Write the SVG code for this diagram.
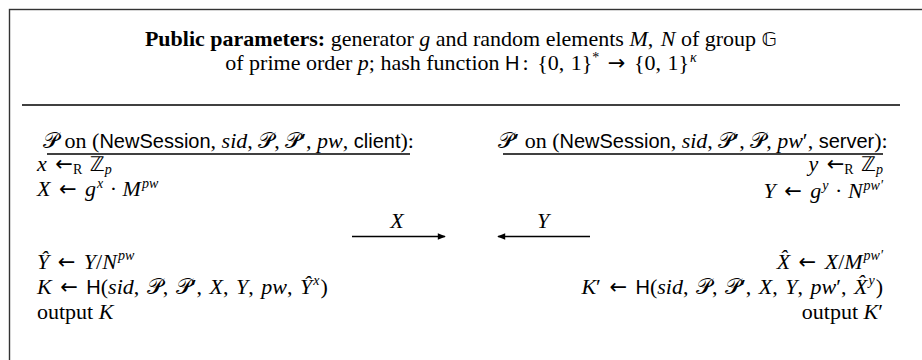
<svg xmlns="http://www.w3.org/2000/svg" width="922" height="360" viewBox="0 0 922 360">
<defs>
<style>
.t{font-family:"Liberation Serif","DejaVu Serif",serif;font-size:22px;fill:#000}
.i{font-style:italic}
.sf{font-family:"Liberation Sans","DejaVu Sans",sans-serif;font-size:20px;font-style:normal}
.s{font-size:14px}
.ar{font-family:"DejaVu Sans",sans-serif;font-size:21px;font-style:normal}
.cal{font-family:"DejaVu Sans","Noto Sans",sans-serif;font-style:normal}
.bb{font-family:"DejaVu Sans","Noto Sans",sans-serif;font-style:normal;font-size:20px}
.rule{stroke:#000;stroke-width:1.3}
.msg{stroke:#000;stroke-width:1.3;fill:none}
</style>
<marker id="ah" viewBox="0 0 10 10" refX="9" refY="5" markerWidth="10" markerHeight="8" markerUnits="userSpaceOnUse" orient="auto">
<path d="M0,1 L10,5 L0,9 z" fill="#000"/>
</marker>
</defs>
<rect x="9.5" y="9.5" width="930" height="370" fill="#fff" stroke="#333" stroke-width="1.4"/>
<g id="params">
<text class="t" x="461" y="46" text-anchor="middle"><tspan font-weight="bold">Public parameters:</tspan> generator <tspan class="i">g</tspan> and random elements <tspan class="i">M</tspan>,<tspan dx="2"> </tspan><tspan class="i">N</tspan> of group <tspan class="bb">𝔾</tspan></text>
<text class="t" x="461" y="70" text-anchor="middle">of prime order <tspan class="i">p</tspan>; hash function <tspan class="sf">H</tspan><tspan dx="3">:</tspan><tspan dx="3"> </tspan>{0,<tspan dx="1"> </tspan>1}<tspan class="s" dy="-8">*</tspan><tspan dy="8" dx="3"> </tspan><tspan class="ar">→</tspan><tspan dx="3"> </tspan>{0,<tspan dx="1"> </tspan>1}<tspan class="s i" dy="-8" dx="1">κ</tspan></text>
<line class="rule" x1="22" y1="105" x2="900" y2="105"/>
</g>
<g id="client">
<text class="t" x="228.5" y="148" text-anchor="middle"><tspan class="cal">𝒫</tspan> on (<tspan class="sf">NewSession</tspan>, <tspan class="i">sid</tspan>, <tspan class="cal">𝒫</tspan>, <tspan class="cal">𝒫</tspan>′, <tspan class="i">pw</tspan>, <tspan class="sf">client</tspan>):</text>
<line class="rule" x1="47" y1="154" x2="410" y2="154"/>
<text class="t" x="37" y="171"><tspan class="i">x</tspan><tspan dx="3"> </tspan><tspan class="ar">←</tspan><tspan class="s" dy="3">R</tspan><tspan dy="-3" dx="2"> </tspan><tspan class="bb">ℤ</tspan><tspan class="s i" dy="3">p</tspan></text>
<text class="t" x="37" y="196"><tspan class="i">X</tspan><tspan dx="3"> </tspan><tspan class="ar">←</tspan><tspan dx="3"> </tspan><tspan class="i">g</tspan><tspan class="s i" dy="-8" dx="1">x</tspan><tspan dy="8" dx="1"> · </tspan><tspan class="i">M</tspan><tspan class="s i" dy="-8" dx="1">pw</tspan></text>
<text class="t" x="37" y="269"><tspan class="i">Y&#x302;</tspan><tspan dx="3"> </tspan><tspan class="ar">←</tspan><tspan dx="3"> </tspan><tspan class="i">Y</tspan>/<tspan class="i">N</tspan><tspan class="s i" dy="-9" dx="1">pw</tspan></text>
<text class="t" x="37" y="294"><tspan class="i">K</tspan><tspan dx="3"> </tspan><tspan class="ar">←</tspan><tspan dx="3"> </tspan><tspan class="sf">H</tspan>(<tspan class="i">sid</tspan>,<tspan dx="2"> </tspan><tspan class="cal">𝒫</tspan>,<tspan dx="2"> </tspan><tspan class="cal">𝒫</tspan>′,<tspan dx="2"> </tspan><tspan class="i">X</tspan>,<tspan dx="2"> </tspan><tspan class="i">Y</tspan>,<tspan dx="2"> </tspan><tspan class="i">pw</tspan>,<tspan dx="2"> </tspan><tspan class="i">Y&#x302;</tspan><tspan class="s i" dy="-9" dx="1">x</tspan><tspan dy="9" dx="1">)</tspan></text>
<text class="t" x="37" y="319">output <tspan class="i">K</tspan></text>
</g>
<g id="server">
<text class="t" x="693" y="148" text-anchor="middle"><tspan class="cal">𝒫</tspan>′ on (<tspan class="sf">NewSession</tspan>, <tspan class="i">sid</tspan>, <tspan class="cal">𝒫</tspan>′, <tspan class="cal">𝒫</tspan>, <tspan class="i">pw</tspan>′, <tspan class="sf">server</tspan>):</text>
<line class="rule" x1="503" y1="154" x2="883" y2="154"/>
<text class="t" x="883" y="171" text-anchor="end"><tspan class="i">y</tspan><tspan dx="3"> </tspan><tspan class="ar">←</tspan><tspan class="s" dy="3">R</tspan><tspan dy="-3" dx="2"> </tspan><tspan class="bb">ℤ</tspan><tspan class="s i" dy="3">p</tspan></text>
<text class="t" x="883" y="198" text-anchor="end"><tspan class="i">Y</tspan><tspan dx="3"> </tspan><tspan class="ar">←</tspan><tspan dx="3"> </tspan><tspan class="i">g</tspan><tspan class="s i" dy="-8" dx="1">y</tspan><tspan dy="8" dx="1"> · </tspan><tspan class="i">N</tspan><tspan class="s i" dy="-8" dx="1">pw′</tspan></text>
<text class="t" x="883" y="269" text-anchor="end"><tspan class="i">X&#x302;</tspan><tspan dx="3"> </tspan><tspan class="ar">←</tspan><tspan dx="3"> </tspan><tspan class="i">X</tspan>/<tspan class="i">M</tspan><tspan class="s i" dy="-9" dx="1">pw′</tspan></text>
<text class="t" x="883" y="294" text-anchor="end"><tspan class="i">K</tspan>′<tspan dx="3"> </tspan><tspan class="ar">←</tspan><tspan dx="3"> </tspan><tspan class="sf">H</tspan>(<tspan class="i">sid</tspan>,<tspan dx="2"> </tspan><tspan class="cal">𝒫</tspan>,<tspan dx="2"> </tspan><tspan class="cal">𝒫</tspan>′,<tspan dx="2"> </tspan><tspan class="i">X</tspan>,<tspan dx="2"> </tspan><tspan class="i">Y</tspan>,<tspan dx="2"> </tspan><tspan class="i">pw</tspan>′,<tspan dx="2"> </tspan><tspan class="i">X&#x302;</tspan><tspan class="s i" dy="-9" dx="1">y</tspan><tspan dy="9" dx="1">)</tspan></text>
<text class="t" x="883" y="319" text-anchor="end">output <tspan class="i">K</tspan>′</text>
</g>
<g id="connectors">
<line class="msg" x1="352" y1="236.5" x2="445" y2="236.5" marker-end="url(#ah)"/>
<text class="t i" x="397" y="228" text-anchor="middle">X</text>
<line class="msg" x1="590" y1="236.5" x2="498" y2="236.5" marker-end="url(#ah)"/>
<text class="t i" x="543" y="228" text-anchor="middle">Y</text>
</g>
</svg>
